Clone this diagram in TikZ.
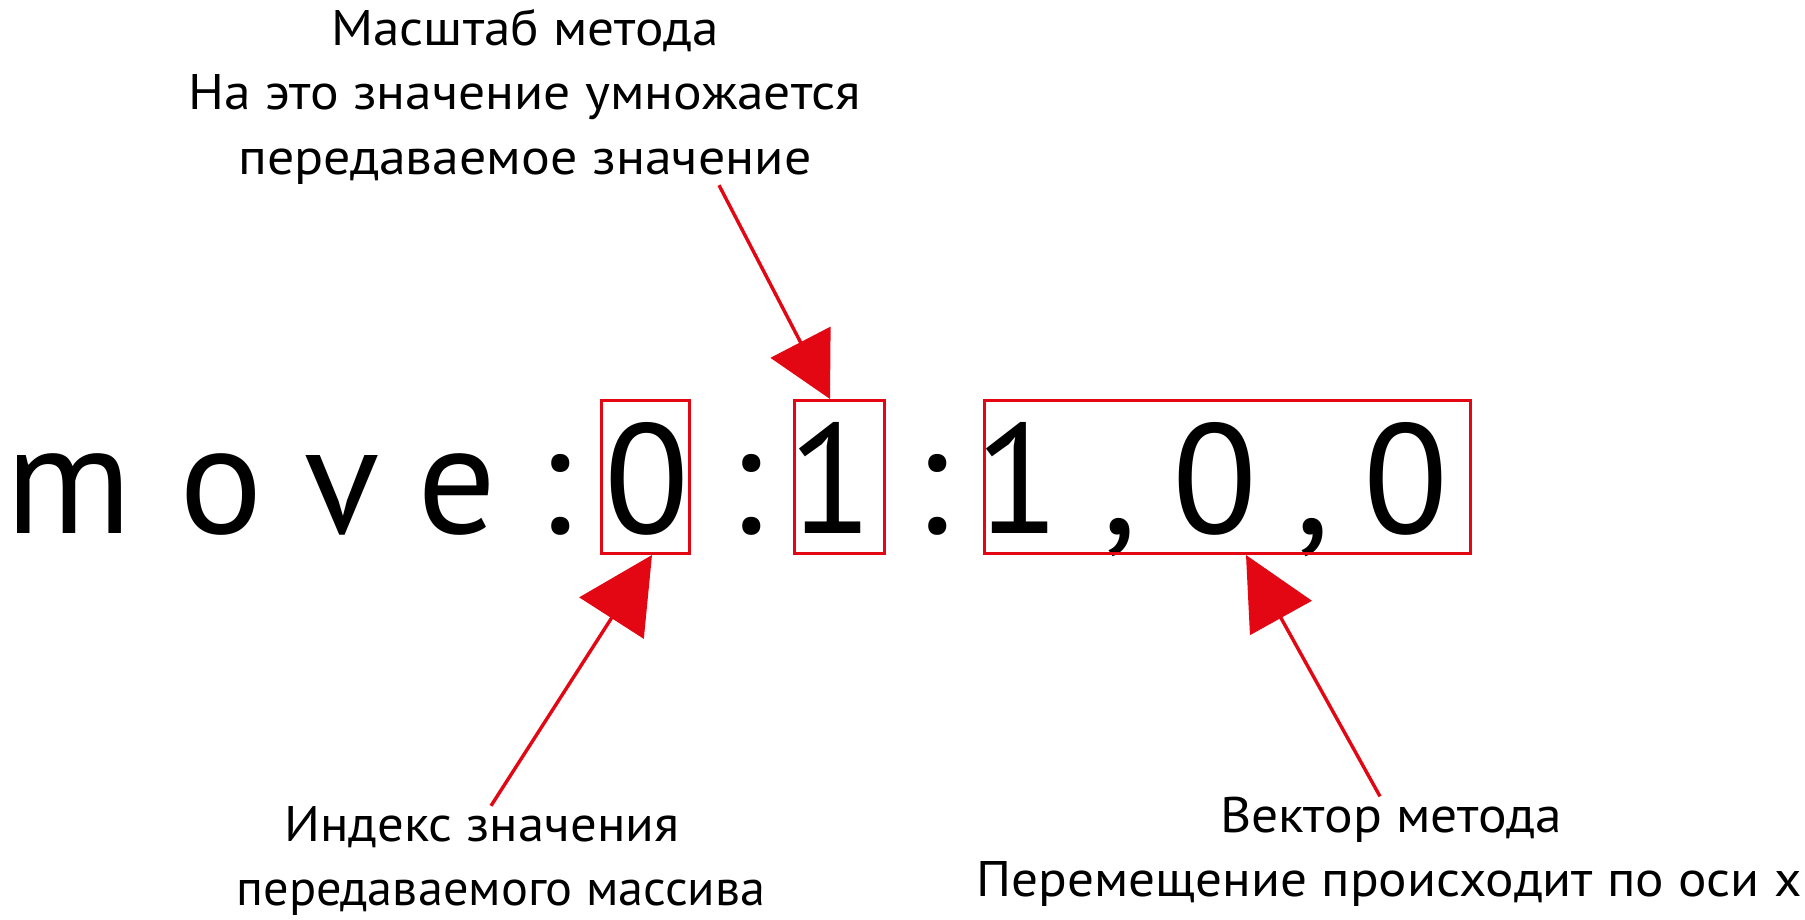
\documentclass[tikz,border=0pt]{standalone}
\usepackage{fontspec}
\usepackage{graphicx}
\setmainfont{PT Sans}
\usetikzlibrary{arrows.meta}
\definecolor{mred}{HTML}{E30613}
\newcommand{\fitw}[2]{\resizebox{#1pt}{\height}{#2}}
\begin{document}
\begin{tikzpicture}[x=1pt,y=-1pt,
  ch/.style={anchor=base, inner sep=0pt, font=\fontsize{156}{160}\selectfont},
  lab/.style={anchor=base, inner sep=0pt, font=\fontsize{50}{60}\selectfont},
  hbox/.style={draw=mred, line width=3pt, inner sep=0pt, minimum height=153pt},
  ptr/.style={draw=mred, line width=3.4pt}
]
\fill[white] (0,0) rectangle (1805,920);
\useasboundingbox (0,0) rectangle (1805,920);

% main text
\node[ch] (cm) at (69,533) {m};
\node[ch] (co) at (221,533) {o};
\node[ch] (cv) at (342,533) {v};
\node[ch] (ce) at (457,533) {e};
\node[ch] (k1) at (555,533) {:};
\node[ch] (d0) at (647,533) {0};
\node[ch] (k2) at (746,533) {:};
\node[ch] (d1) at (831,533) {1};
\node[ch] (k3) at (932,533) {:};
\node[ch] (v1) at (1018,533) {1};
\node[ch] (m1) at (1120,533) {,};
\node[ch] (v2) at (1215,533) {0};
\node[ch] (m2) at (1313,533) {,};
\node[ch] (v3) at (1406,533) {0};

% boxes
\node[hbox, minimum width=88pt] (b0) at (645.5,477) {};
\node[hbox, minimum width=90pt] (b1) at (839.5,477) {};
\node[hbox, minimum width=486pt] (b2) at (1227.5,477) {};

% labels
\node[lab] (ta) at (525,46) {\fitw{387}{Масштаб метода}};
\node[lab] (tb) at (525,110) {\fitw{672}{На это значение умножается}};
\node[lab] (tc) at (525,175) {\fitw{573}{передаваемое значение}};
\node[lab] (la) at (482,841) {\fitw{395}{Индекс значения}};
\node[lab] (lb) at (501,905) {\fitw{529}{передаваемого массива}};
\node[lab] (ra) at (1391,832) {\fitw{342}{Вектор метода}};
\node[lab] (rb) at (1389,896) {\fitw{825}{Перемещение происходит по оси x}};

% arrows
\coordinate (s1) at ([xshift=194pt]tc.south);
\coordinate (t1) at ([xshift=-9.5pt]b1.north);
\coordinate (s0) at ([xshift=9pt]la.north);
\coordinate (t0) at ([xshift=6.5pt]b0.south);
\coordinate (s2) at ([xshift=-11pt]ra.north);
\coordinate (t2) at ([xshift=18.5pt]b2.south);
\draw[ptr, -{Triangle[length=64pt,width=67pt]}] (s1) -- (t1);
\draw[ptr, -{Triangle[length=75pt,width=76pt]}] (s0) -- (t0);
\draw[ptr, -{Triangle[length=72pt,width=70pt]}] (s2) -- (t2);
\end{tikzpicture}
\end{document}
